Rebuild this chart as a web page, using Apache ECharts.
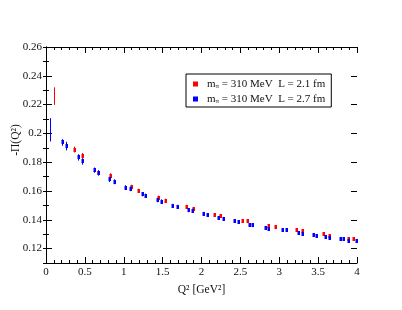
<!DOCTYPE html>
<html><head><meta charset="utf-8">
<script src="https://cdn.jsdelivr.net/npm/echarts@6/dist/echarts.min.js"></script>
<style>html,body{margin:0;padding:0;background:#fff}#c{width:402px;height:310px}</style>
</head><body><div id="c"></div>
<script>
// Red series: m_pi = 310 MeV, L = 2.1 fm
const qRed = [0.099, 0.364, 0.463, 0.673, 0.823, 1.089, 1.18, 1.436, 1.535, 1.796, 1.895, 2.157, 2.238, 2.515, 2.585, 2.86, 2.945, 3.215, 3.29, 3.567, 3.644, 3.89, 3.95];
const vRed = [0.2259, 0.1888, 0.1844, 0.1726, 0.1705, 0.1627, 0.1601, 0.1553, 0.1532, 0.149, 0.1474, 0.1433, 0.1428, 0.1393, 0.1389, 0.1359, 0.1347, 0.1328, 0.1319, 0.1299, 0.1287, 0.1268, 0.1266];
const eRed = [0.0061, 0.002, 0.002, 0.0018, 0.0018, 0.0016, 0.0015, 0.0015, 0.0014, 0.0014, 0.0014, 0.0013, 0.0013, 0.0012, 0.0012, 0.0012, 0.0012, 0.0012, 0.0012, 0.0011, 0.0011, 0.0011, 0.0011];
// Blue series: m_pi = 310 MeV, L = 2.7 fm
const qBlue = [0.051, 0.21, 0.257, 0.412, 0.463, 0.622, 0.673, 0.815, 0.875, 1.016, 1.08, 1.23, 1.273, 1.423, 1.479, 1.625, 1.685, 1.822, 1.873, 2.015, 2.075, 2.216, 2.272, 2.418, 2.469, 2.615, 2.654, 2.817, 2.86, 3.031, 3.087, 3.245, 3.288, 3.438, 3.468, 3.588, 3.64, 3.781, 3.824, 3.889, 3.987];
const vBlue = [0.2025, 0.1937, 0.1912, 0.1833, 0.1805, 0.1745, 0.1726, 0.168, 0.1664, 0.1624, 0.1615, 0.1578, 0.1567, 0.1537, 0.1527, 0.1497, 0.149, 0.1467, 0.1463, 0.1442, 0.1433, 0.1412, 0.1407, 0.1391, 0.1386, 0.1363, 0.1361, 0.1345, 0.1338, 0.1329, 0.1326, 0.1306, 0.1303, 0.1292, 0.1287, 0.128, 0.1275, 0.1266, 0.1264, 0.1255, 0.1252];
const eBlue = [0.0081, 0.0023, 0.003, 0.0022, 0.0022, 0.0018, 0.0018, 0.0018, 0.0017, 0.0016, 0.0016, 0.0015, 0.0015, 0.0015, 0.0015, 0.0014, 0.0014, 0.0014, 0.0014, 0.0013, 0.0013, 0.0013, 0.0013, 0.0012, 0.0012, 0.0012, 0.0012, 0.0012, 0.0012, 0.0011, 0.0011, 0.0011, 0.0011, 0.0011, 0.0011, 0.0011, 0.0011, 0.0011, 0.0011, 0.0011, 0.0011];
const xTicks = {min: 0, max: 4, interval: 0.5};
const yTicks = {min: 0.12, max: 0.26, interval: 0.02};
const yRange = {min: 0.11, max: 0.26, minorInterval: 0.01};

const FONT = '"Liberation Serif", "DejaVu Serif", serif';
const TXT = '#111';
function build(q, v, e) { return q.map((x, i) => [x, v[i], e[i]]); }
function renderErr(color) {
  return function (params, api) {
    const x = api.value(0), y = api.value(1), e = api.value(2);
    const p = api.coord([x, y]);
    const lo = api.coord([x, y - e]);
    const hi = api.coord([x, y + e]);
    const cx = Math.round(p[0]) + 0.5;
    const children = [
      {type: 'line', shape: {x1: cx, y1: lo[1], x2: cx, y2: hi[1]}, style: {stroke: color, lineWidth: 1}}
    ];
    if (e < 0.005) {
      children.push({type: 'rect', shape: {x: cx - 1, y: Math.round(p[1]) - 2, width: 2.5, height: 4}, style: {fill: color}});
    }
    return {type: 'group', children};
  };
}
const L = 46, R = 45, T = 47, B = 47;
const plotH = 310 - T - B;
const pxPerUnit = plotH / (yRange.max - yRange.min);
const gridBBottom = B + (yTicks.min - yRange.min) * pxPerUnit;

const chart = echarts.init(document.getElementById('c'), null, {renderer: 'canvas'});
const axisLine = {show: true, lineStyle: {color: '#000', width: 1}};
chart.setOption({
  animation: false,
  backgroundColor: '#fff',
  grid: [
    {left: L, right: R, top: T, bottom: B},
    {left: L, right: R, top: T, bottom: gridBBottom}
  ],
  xAxis: [
    {gridIndex: 0, type: 'value', min: xTicks.min, max: xTicks.max, interval: xTicks.interval, position: 'bottom',
     axisLine, axisTick: {inside: true, length: 6, lineStyle: {color: '#000'}},
     minorTick: {show: true, splitNumber: 5, length: 3, lineStyle: {color: '#000'}},
     splitLine: {show: false},
     axisLabel: {color: TXT, fontFamily: FONT, fontSize: 11, margin: 4},
     name: 'Q² [GeV²]', nameLocation: 'middle', nameGap: 21,
     nameTextStyle: {color: TXT, fontFamily: FONT, fontSize: 11.5}},
    {gridIndex: 0, type: 'value', min: xTicks.min, max: xTicks.max, interval: xTicks.interval, position: 'top',
     axisLine, axisTick: {inside: true, length: 6, lineStyle: {color: '#000'}},
     minorTick: {show: true, splitNumber: 5, length: 3, lineStyle: {color: '#000'}},
     splitLine: {show: false}, axisLabel: {show: false}},
    {gridIndex: 1, type: 'value', min: xTicks.min, max: xTicks.max, show: false}
  ],
  yAxis: [
    {gridIndex: 0, type: 'value', min: yRange.min, max: yRange.max, interval: yRange.minorInterval, position: 'left',
     axisLine, axisTick: {inside: true, length: 3, lineStyle: {color: '#000'}},
     splitLine: {show: false}, axisLabel: {show: false}},
    {gridIndex: 0, type: 'value', min: yRange.min, max: yRange.max, interval: yRange.minorInterval, position: 'right',
     axisLine, axisTick: {inside: true, length: 3, lineStyle: {color: '#000'}},
     splitLine: {show: false}, axisLabel: {show: false}},
    {gridIndex: 1, type: 'value', min: yTicks.min, max: yTicks.max, interval: yTicks.interval, position: 'left',
     axisLine: {show: false}, axisTick: {show: true, inside: true, length: 6, lineStyle: {color: '#000'}},
     splitLine: {show: false},
     axisLabel: {color: TXT, fontFamily: FONT, fontSize: 11, margin: 4}},
    {gridIndex: 1, type: 'value', min: yTicks.min, max: yTicks.max, interval: yTicks.interval, position: 'right',
     axisLine: {show: false}, axisTick: {show: true, inside: true, length: 6, lineStyle: {color: '#000'}},
     splitLine: {show: false}, axisLabel: {show: false}}
  ],
  legend: {
    left: 186, top: 74, orient: 'vertical',
    icon: 'rect', itemWidth: 5, itemHeight: 5, itemGap: 2,
    borderColor: '#000', borderWidth: 1, borderRadius: 0,
    padding: [3, 6, 2, 7],
    data: ['L = 2.1 fm', 'L = 2.7 fm'],
    formatter: function (name) {
      return '{m|m}{s|π}{t| = 310 MeV  ' + name + '}';
    },
    textStyle: {
      color: TXT, fontFamily: FONT, fontSize: 11,
      rich: {
        m: {fontFamily: FONT, fontSize: 11, color: TXT, padding: [0, 0, 0, 4], lineHeight: 12},
        s: {fontFamily: FONT, fontSize: 7, color: TXT, verticalAlign: 'bottom', lineHeight: 12, padding: [6, 0, 0, 0]},
        t: {fontFamily: FONT, fontSize: 11, color: TXT, lineHeight: 12}
      }
    }
  },
  graphic: [
    {type: 'text', x: 16, y: 140, rotation: Math.PI / 2,
     style: {text: '-Π(Q²)', fill: TXT, font: '11.5px ' + FONT, textAlign: 'center', textVerticalAlign: 'middle'}}
  ],
  series: [
    {name: 'L = 2.1 fm', type: 'custom', xAxisIndex: 0, yAxisIndex: 0, itemStyle: {color: '#ff0000'},
     renderItem: renderErr('#ff0000'), data: build(qRed, vRed, eRed), z: 3},
    {name: 'L = 2.7 fm', type: 'custom', xAxisIndex: 0, yAxisIndex: 0, itemStyle: {color: '#0000ff'},
     renderItem: renderErr('#0000ff'), data: build(qBlue, vBlue, eBlue), z: 4}
  ]
});
</script>
</body></html>
